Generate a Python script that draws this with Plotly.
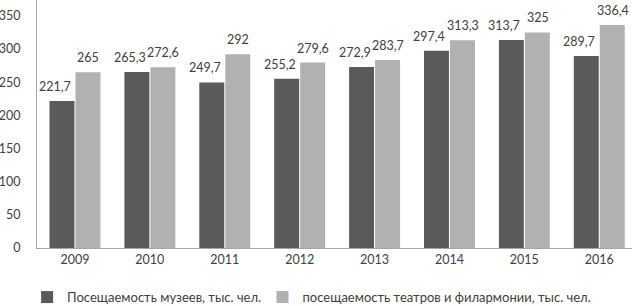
import plotly.graph_objects as go

years = ["2009", "2010", "2011", "2012", "2013", "2014", "2015", "2016"]
museums = [221.7, 265.3, 249.7, 255.2, 272.9, 297.4, 313.7, 289.7]
theatres = [265, 272.6, 292, 279.6, 283.7, 313.3, 325, 336.4]
museum_labels = ["221,7", "265,3", "249,7", "255,2", "272,9", "297,4", "313,7", "289,7"]
theatre_labels = ["265", "272,6", "292", "279,6", "283,7", "313,3", "325", "336,4"]
yticks = [0, 50, 100, 150, 200, 250, 300, 350]

FONT = "Lato, Open Sans, sans-serif"
TXT = "#404040"
FS = 12.5

fig = go.Figure()
fig.add_trace(go.Bar(
    x=years, y=museums, name="Посещаемость музеев, тыс. чел.",
    marker=dict(color="#5a5a5a", line=dict(width=0)), legend="legend",
))
fig.add_trace(go.Bar(
    x=years, y=theatres, name="посещаемость театров и филармонии, тыс. чел.",
    marker=dict(color="#b1b1b1", line=dict(width=0)), legend="legend2",
))

# category axis: annotations placed by category index (serial number)
annotations = []
for i, (v, t) in enumerate(zip(museums, museum_labels)):
    annotations.append(dict(x=i, y=v, xref="x", yref="y", text=t, showarrow=False,
                            xanchor="center", yanchor="bottom", xshift=-20, yshift=5,
                            font=dict(size=FS, color=TXT, family=FONT)))
for i, (v, t) in enumerate(zip(theatres, theatre_labels)):
    annotations.append(dict(x=i, y=v, xref="x", yref="y", text=t, showarrow=False,
                            xanchor="center", yanchor="bottom", xshift=13.5, yshift=5,
                            font=dict(size=FS, color=TXT, family=FONT)))

legend_common = dict(
    orientation="h", y=-0.198, xanchor="left", yanchor="middle",
    font=dict(size=13, color=TXT, family=FONT),
    itemwidth=30, bgcolor="rgba(0,0,0,0)",
)

fig.update_layout(
    template="none",
    width=632, height=306,
    margin=dict(l=37, r=0, t=0, b=58, autoexpand=False),
    paper_bgcolor="white", plot_bgcolor="white",
    barmode="group", bargap=0.306, bargroupgap=0.04,
    font=dict(family=FONT, size=FS, color=TXT),
    showlegend=True,
    annotations=annotations,
    legend=dict(x=-0.0166, **legend_common),
    legend2=dict(x=0.379, **legend_common),
    xaxis=dict(
        type="category", range=[-0.507, 7.437], automargin=False,
        showline=True, linecolor="#a6a6a6", linewidth=1,
        ticks="", showgrid=False, tickfont=dict(size=FS, color=TXT, family=FONT),
    ),
    yaxis=dict(
        range=[0, 374], tickvals=yticks, ticktext=[str(v) for v in yticks],
        automargin=False,
        showline=True, linecolor="#a6a6a6", linewidth=1,
        ticks="", showgrid=False, zeroline=False,
        tickfont=dict(size=FS, color=TXT, family=FONT),
        ticklabelstandoff=13,
    ),
)

fig.write_html("out.html", config={"displayModeBar": False},
               post_script="document.body.style.margin='0';")
